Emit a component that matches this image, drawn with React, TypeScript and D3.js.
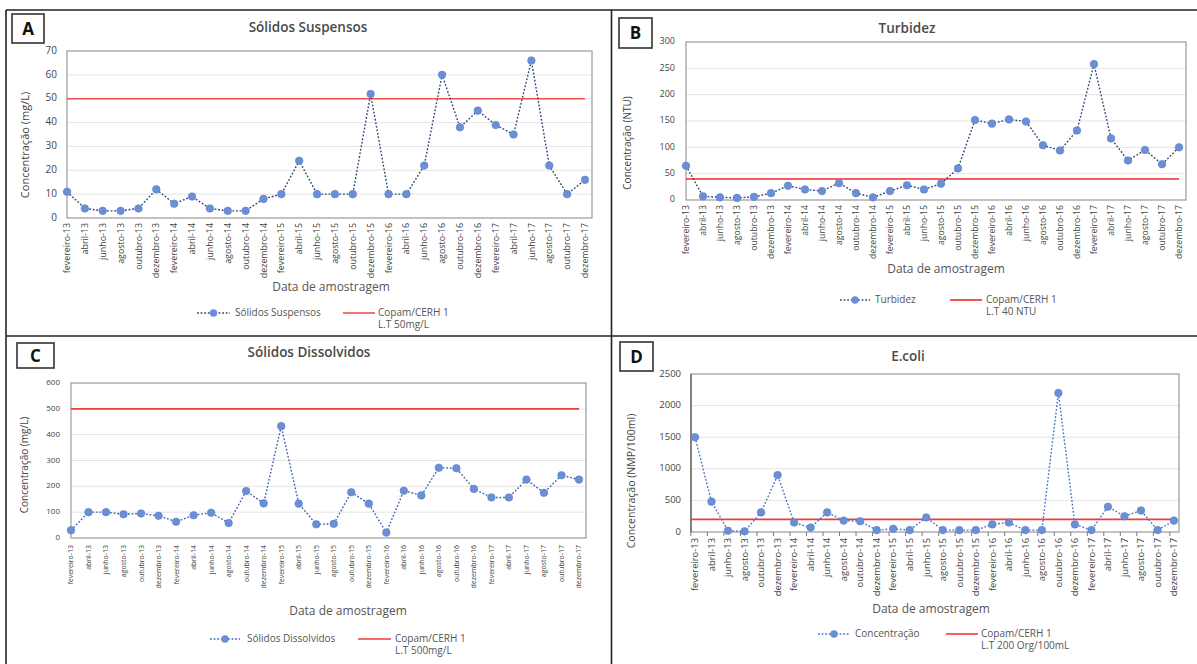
import React from "react";
import * as d3 from "d3";

const categories = [
  "fevereiro-13", "abril-13", "junho-13", "agosto-13", "outubro-13", "dezembro-13",
  "fevereiro-14", "abril-14", "junho-14", "agosto-14", "outubro-14", "dezembro-14",
  "fevereiro-15", "abril-15", "junho-15", "agosto-15", "outubro-15", "dezembro-15",
  "fevereiro-16", "abril-16", "junho-16", "agosto-16", "outubro-16", "dezembro-16",
  "fevereiro-17", "abril-17", "junho-17", "agosto-17", "outubro-17", "dezembro-17",
];

const solidosSuspensos = [11, 4, 3, 3, 4, 12, 6, 9, 4, 3, 3, 8, 10, 24, 10, 10, 10, 52, 10, 10, 22, 60, 38, 45, 39, 35, 66, 22, 10, 16];
const turbidez = [65, 7, 5, 4, 6, 13, 27, 20, 17, 32, 13, 5, 17, 28, 20, 31, 60, 152, 145, 153, 149, 104, 94, 132, 258, 117, 75, 95, 68, 100];
const solidosDissolvidos = [30, 100, 100, 92, 95, 86, 63, 88, 98, 58, 182, 134, 433, 133, 53, 55, 177, 133, 21, 183, 165, 272, 270, 190, 157, 157, 226, 175, 243, 226];
const ecoli = [1500, 480, 20, 10, 310, 900, 150, 70, 310, 180, 170, 30, 50, 30, 230, 30, 30, 30, 120, 150, 30, 30, 2200, 120, 30, 400, 250, 340, 30, 180];

const limitA = 50;
const limitB = 40;
const limitC = 500;
const limitD = 200;

const FONT = "'Open Sans', 'Noto Sans', sans-serif";

type PanelCfg = {
  letter: string;
  box: [number, number, number, number];
  title: string;
  titleX: number;
  titleY: number;
  plot: { x0: number; x1: number; y0: number; y1: number };
  px: [number, number];
  ymax: number;
  ystep: number;
  values: number[];
  limit: number;
  yLabel: string;
  yLabelX: number;
  yLabelY: number;
  yLabelSize: number;
  yTickRight: number;
  yTickSize: number;
  xLabTop: number;
  xLabSize: number;
  axisTitleX: number;
  axisTitleY: number;
  legendY: number;
  legMarker: [number, number];
  legText: number;
  seriesName: string;
  redLine: [number, number];
  redText: number;
  redLine2: string;
  lineColor: string;
  redColor: string;
  xTicks?: boolean;
  darkAxis?: boolean;
};

function Panel({ c }: { c: PanelCfg }) {
  const x = d3.scalePoint<string>().domain(categories).range(c.px);
  const y = d3.scaleLinear().domain([0, c.ymax]).range([c.plot.y1, c.plot.y0]);
  const ticks = d3.range(0, c.ymax + c.ystep / 2, c.ystep);
  const line = d3
    .line<number>()
    .x((_, i) => x(categories[i]) as number)
    .y((v) => y(v));
  const step = x.step();
  return (
    <g>
      <rect x={c.box[0]} y={c.box[1]} width={c.box[2]} height={c.box[3]} fill="#fff" stroke="#333" strokeWidth={1.6} />
      <text x={c.box[0] + c.box[2] / 2} y={c.box[1] + c.box[3] / 2 + 6} textAnchor="middle" fontFamily={FONT} fontWeight={700} fontSize={17} fill="#111">
        {c.letter}
      </text>
      <text x={c.titleX} y={c.titleY} textAnchor="middle" dominantBaseline="middle" fontFamily={FONT} fontWeight={600} fontSize={13.5} fill="#4a4a4a">
        {c.title}
      </text>
      {ticks.map((t) => (
        <g key={t}>
          {t > 0 && t < c.ymax && (
            <line x1={c.plot.x0} x2={c.plot.x1} y1={y(t)} y2={y(t)} stroke="#e4e4e4" strokeWidth={1} />
          )}
          <text x={c.yTickRight} y={y(t)} textAnchor="end" dominantBaseline="middle" fontFamily={FONT} fontSize={c.yTickSize} fill="#444">
            {t}
          </text>
        </g>
      ))}
      <rect x={c.plot.x0} y={c.plot.y0} width={c.plot.x1 - c.plot.x0} height={c.plot.y1 - c.plot.y0} fill="none" stroke="#9a9a9a" strokeWidth={1.2} />
      {c.darkAxis && <line x1={c.plot.x0} x2={c.plot.x0} y1={c.plot.y0} y2={c.plot.y1} stroke="#555" strokeWidth={1.2} />}
      {c.xTicks &&
        categories.map((cat) => (
          <line key={"t" + cat} x1={(x(cat) as number) - step / 4} x2={(x(cat) as number) - step / 4} y1={c.plot.y1} y2={c.plot.y1 + 4} stroke="#777" strokeWidth={1} />
        ))}
      <line x1={c.plot.x0} x2={c.px[1]} y1={y(c.limit)} y2={y(c.limit)} stroke={c.redColor} strokeWidth={1.6} />
      <path d={line(c.values) || ""} fill="none" stroke={c.lineColor} strokeWidth={1.4} strokeDasharray="1.8,1.8" />
      {c.values.map((v, i) => (
        <circle key={i} cx={x(categories[i]) as number} cy={y(v)} r={3.8} fill="#6b8fd6" stroke="#5a7fcb" strokeWidth={0.6} />
      ))}
      {categories.map((cat) => (
        <text
          key={cat}
          transform={`translate(${(x(cat) as number) + c.xLabSize * 0.35},${c.xLabTop}) rotate(-90)`}
          textAnchor="end"
          fontFamily={FONT}
          fontSize={c.xLabSize}
          fill="#444"
        >
          {cat}
        </text>
      ))}
      <text transform={`translate(${c.yLabelX},${c.yLabelY}) rotate(-90)`} textAnchor="middle" dominantBaseline="middle" fontFamily={FONT} fontSize={c.yLabelSize} fill="#444">
        {c.yLabel}
      </text>
      <text x={c.axisTitleX} y={c.axisTitleY} textAnchor="middle" dominantBaseline="middle" fontFamily={FONT} fontSize={12} fill="#555">
        Data de amostragem
      </text>
      <line x1={c.legMarker[0]} x2={c.legMarker[1]} y1={c.legendY} y2={c.legendY} stroke={c.lineColor} strokeWidth={1.4} strokeDasharray="1.8,1.8" />
      <circle cx={(c.legMarker[0] + c.legMarker[1]) / 2} cy={c.legendY} r={3.8} fill="#6b8fd6" />
      <text x={c.legText} y={c.legendY} dominantBaseline="middle" fontFamily={FONT} fontSize={10} fill="#555">
        {c.seriesName}
      </text>
      <line x1={c.redLine[0]} x2={c.redLine[1]} y1={c.legendY} y2={c.legendY} stroke={c.redColor} strokeWidth={1.6} />
      <text x={c.redText} y={c.legendY} dominantBaseline="middle" fontFamily={FONT} fontSize={10} fill="#555">
        Copam/CERH 1
      </text>
      <text x={c.redText} y={c.legendY + 12} dominantBaseline="middle" fontFamily={FONT} fontSize={10} fill="#555">
        {c.redLine2}
      </text>
    </g>
  );
}

const panels: PanelCfg[] = [
  {
    letter: "A", box: [12, 14, 32, 29], title: "Sólidos Suspensos", titleX: 308, titleY: 28,
    plot: { x0: 67, x1: 592, y0: 51, y1: 218 }, px: [67, 585], ymax: 70, ystep: 10,
    values: solidosSuspensos, limit: limitA, yLabel: "Concentração (mg/L)", yLabelX: 26, yLabelY: 145, yLabelSize: 11,
    yTickRight: 57, yTickSize: 10, xLabTop: 223, xLabSize: 8.9, axisTitleX: 331, axisTitleY: 288,
    legendY: 313, legMarker: [197, 230], legText: 235, seriesName: "Sólidos Suspensos",
    redLine: [343, 375], redText: 378, redLine2: "L.T 50mg/L", lineColor: "#2f4677", redColor: "#f25050",
  },
  {
    letter: "B", box: [619, 18, 33, 30], title: "Turbidez", titleX: 907, titleY: 29,
    plot: { x0: 686, x1: 1186, y0: 42, y1: 200 }, px: [686, 1179], ymax: 300, ystep: 50,
    values: turbidez, limit: limitB, yLabel: "Concentração (NTU)", yLabelX: 628, yLabelY: 143, yLabelSize: 10,
    yTickRight: 675, yTickSize: 9, xLabTop: 205, xLabSize: 8.7, axisTitleX: 946, axisTitleY: 270,
    legendY: 300, legMarker: [840, 870], legText: 875, seriesName: "Turbidez",
    redLine: [950, 982], redText: 986, redLine2: "L.T 40 NTU", lineColor: "#2f4677", redColor: "#f02828",
  },
  {
    letter: "C", box: [17, 343, 37, 25], title: "Sólidos Dissolvidos", titleX: 309, titleY: 353,
    plot: { x0: 71, x1: 586, y0: 383, y1: 538 }, px: [71, 579], ymax: 600, ystep: 100,
    values: solidosDissolvidos, limit: limitC, yLabel: "Concentração (mg/L)", yLabelX: 25, yLabelY: 465, yLabelSize: 10,
    yTickRight: 60, yTickSize: 8, xLabTop: 545, xLabSize: 7, axisTitleX: 348, axisTitleY: 612,
    legendY: 639, legMarker: [210, 240], legText: 247, seriesName: "Sólidos Dissolvidos",
    redLine: [358, 391], redText: 395, redLine2: "L.T 500mg/L", lineColor: "#3f64b8", redColor: "#f03a3a",
  },
  {
    letter: "D", box: [620, 342, 33, 29], title: "E.coli", titleX: 908, titleY: 357,
    plot: { x0: 691, x1: 1179, y0: 374, y1: 532 }, px: [695, 1174], ymax: 2500, ystep: 500,
    values: ecoli, limit: limitD, yLabel: "Concentração (NMP/100ml)", yLabelX: 632, yLabelY: 481, yLabelSize: 10.5,
    yTickRight: 681, yTickSize: 9.5, xLabTop: 538, xLabSize: 9.4, axisTitleX: 931, axisTitleY: 610,
    legendY: 634, legMarker: [818, 850], legText: 855, seriesName: "Concentração",
    redLine: [946, 978], redText: 981, redLine2: "L.T 200 Org/100mL", lineColor: "#4a74c9", redColor: "#f23c3c",
    xTicks: true, darkAxis: true,
  },
];

export default function App() {
  return (
    <svg width={1197} height={664} style={{ position: "absolute", left: 0, top: 0, background: "#fff" }}>
      <rect x={0} y={0} width={1197} height={664} fill="#fff" />
      <line x1={6} x2={1197} y1={10} y2={10} stroke="#222" strokeWidth={1.6} />
      <line x1={6} x2={1197} y1={336} y2={336} stroke="#222" strokeWidth={1.6} />
      <line x1={6} x2={6} y1={10} y2={664} stroke="#222" strokeWidth={1.6} />
      <line x1={611.5} x2={611.5} y1={10} y2={664} stroke="#222" strokeWidth={1.6} />
      {panels.map((p) => (
        <Panel key={p.letter} c={p} />
      ))}
    </svg>
  );
}
